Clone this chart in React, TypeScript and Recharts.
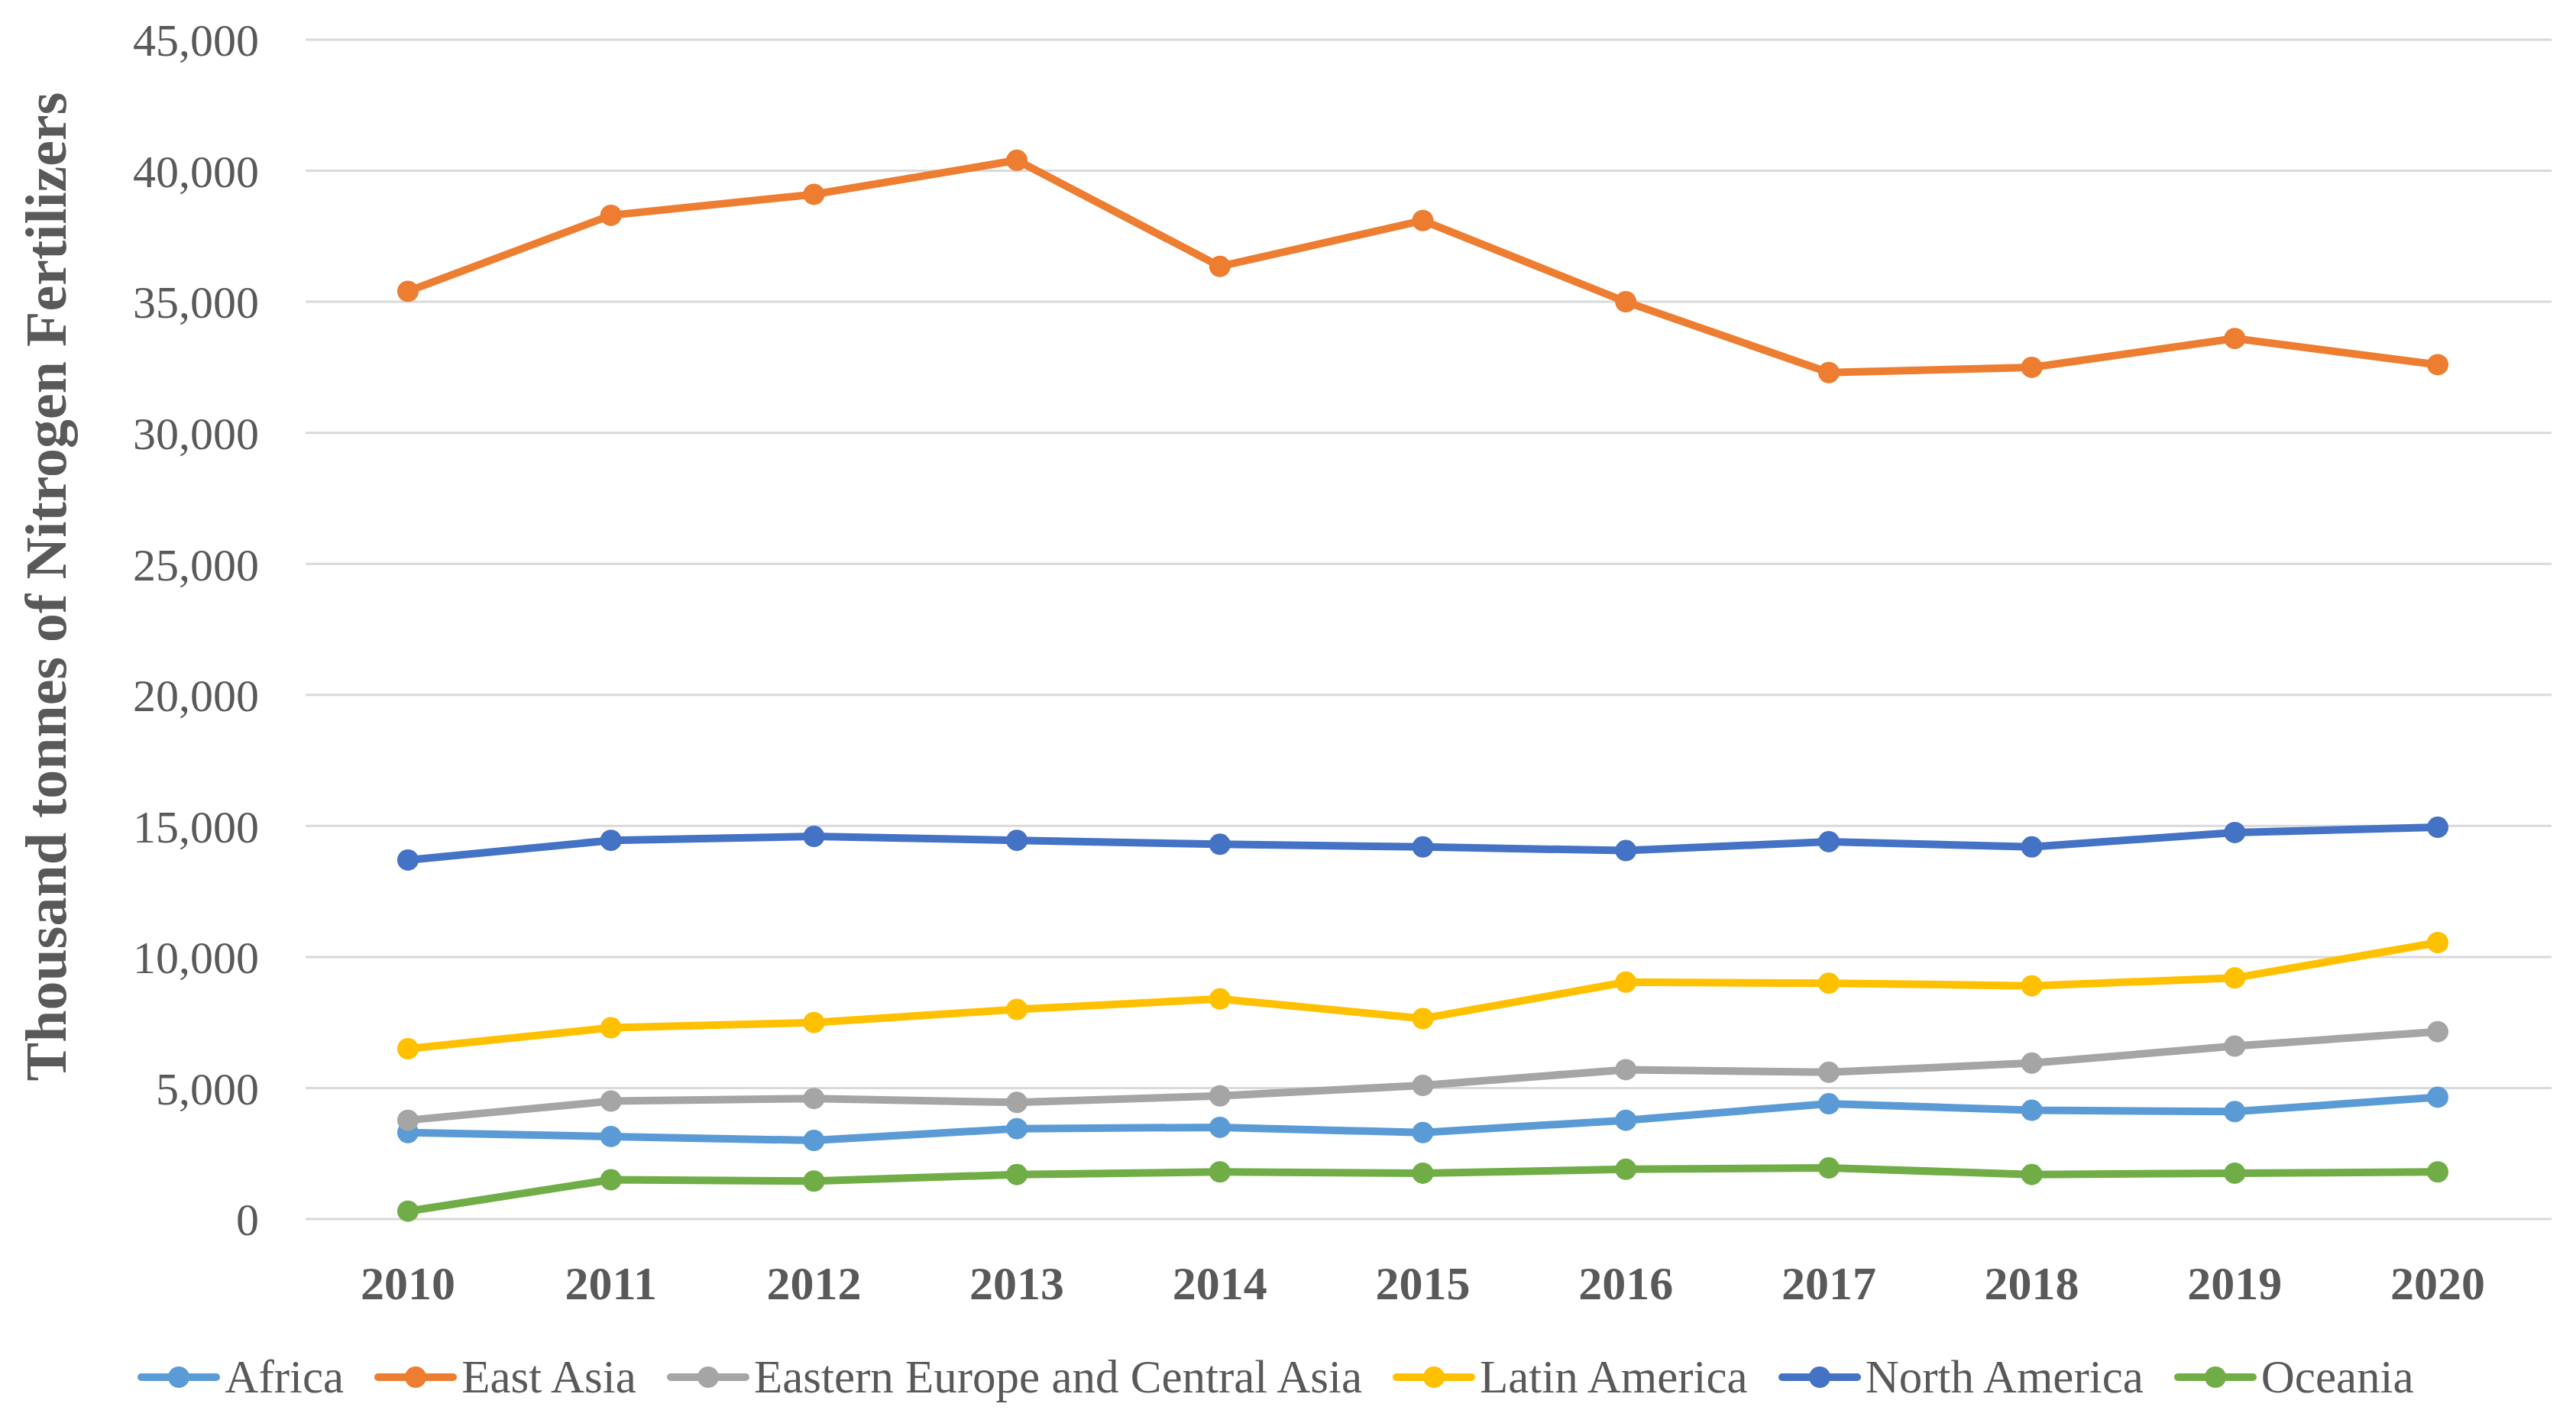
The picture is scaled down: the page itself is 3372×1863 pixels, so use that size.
import { LineChart, Line, XAxis, YAxis, CartesianGrid, Legend, Label } from 'recharts';

const years = ['2010', '2011', '2012', '2013', '2014', '2015', '2016', '2017', '2018', '2019', '2020'];

const africa = [3300, 3150, 3000, 3450, 3500, 3300, 3770, 4400, 4150, 4100, 4650];
const eastAsia = [35400, 38300, 39100, 40400, 36350, 38100, 35000, 32300, 32500, 33600, 32600];
const easternEurope = [3770, 4500, 4600, 4450, 4700, 5100, 5700, 5600, 5950, 6600, 7150];
const latinAmerica = [6500, 7300, 7500, 8000, 8400, 7650, 9040, 9000, 8900, 9200, 10550];
const northAmerica = [13700, 14450, 14600, 14450, 14300, 14200, 14060, 14400, 14200, 14750, 14950];
const oceania = [300, 1500, 1450, 1700, 1800, 1750, 1900, 1950, 1700, 1750, 1800];

const yTicks = [0, 5000, 10000, 15000, 20000, 25000, 30000, 35000, 40000, 45000];

const series = [
  { key: 'africa', name: 'Africa', values: africa, color: '#5B9BD5' },
  { key: 'eastAsia', name: 'East Asia', values: eastAsia, color: '#ED7D31' },
  { key: 'easternEurope', name: 'Eastern Europe and Central Asia', values: easternEurope, color: '#A5A5A5' },
  { key: 'latinAmerica', name: 'Latin America', values: latinAmerica, color: '#FFC000' },
  { key: 'northAmerica', name: 'North America', values: northAmerica, color: '#4472C4' },
  { key: 'oceania', name: 'Oceania', values: oceania, color: '#70AD47' },
];

const data = years.map((year, i) => {
  const row: Record<string, string | number> = { year };
  series.forEach((s) => {
    row[s.key] = s.values[i];
  });
  return row;
});

const FONT = '"Liberation Serif", "Times New Roman", serif';
const TEXT = '#595959';

function LegendContent() {
  return (
    <div
      style={{
        display: 'flex',
        justifyContent: 'center',
        alignItems: 'center',
        height: 70,
        fontFamily: FONT,
        fontSize: 61,
        color: TEXT,
        whiteSpace: 'nowrap',
      }}
    >
      {series.map((s, i) => (
        <div
          key={s.key}
          style={{ display: 'flex', alignItems: 'center', marginRight: i === series.length - 1 ? 0 : 40 }}
        >
          <svg width={108} height={32} style={{ marginRight: 6 }}>
            <line x1={5} y1={16} x2={103} y2={16} stroke={s.color} strokeWidth={10} strokeLinecap="round" />
            <circle cx={54} cy={16} r={14} fill={s.color} />
          </svg>
          <span>{s.name}</span>
        </div>
      ))}
    </div>
  );
}

export default function App() {
  return (
    <div style={{ width: 3372, height: 1863, background: '#fff' }}>
      <style>{'body{margin:0;}'}</style>
      <LineChart width={3372} height={1863} data={data} margin={{ top: 52, right: 32, bottom: 25, left: 0 }}>
        <CartesianGrid vertical={false} stroke="#D9D9D9" strokeWidth={3} />
        <XAxis
          dataKey="year"
          axisLine={false}
          tickLine={false}
          tickSize={0}
          tickMargin={61}
          height={172}
          interval={0}
          padding={{ left: 134, right: 149 }}
          tick={{ fill: TEXT, fontSize: 62, fontWeight: 'bold', fontFamily: FONT }}
        />
        <YAxis
          domain={[0, 45000]}
          ticks={yTicks}
          axisLine={false}
          tickLine={false}
          tickSize={0}
          tickMargin={61}
          width={400}
          tick={{ fill: TEXT, fontSize: 60, fontFamily: FONT }}
          tickFormatter={(v: number) => v.toLocaleString('en-US')}
        >
          <Label
            content={() => (
              <text
                x={60}
                y={768}
                transform="rotate(-90 60 768)"
                textAnchor="middle"
                dominantBaseline="central"
                fill={TEXT}
                fontFamily={FONT}
                fontSize={76}
                fontWeight="bold"
              >
                Thousand tonnes of Nitrogen Fertilizers
              </text>
            )}
          />
        </YAxis>
        <Legend verticalAlign="bottom" align="center" content={() => <LegendContent />} />
        {series.map((s) => (
          <Line
            key={s.key}
            type="linear"
            dataKey={s.key}
            name={s.name}
            stroke={s.color}
            strokeWidth={10}
            dot={{ r: 14, fill: s.color, stroke: s.color, strokeWidth: 0 }}
            activeDot={false}
            isAnimationActive={false}
          />
        ))}
      </LineChart>
    </div>
  );
}
